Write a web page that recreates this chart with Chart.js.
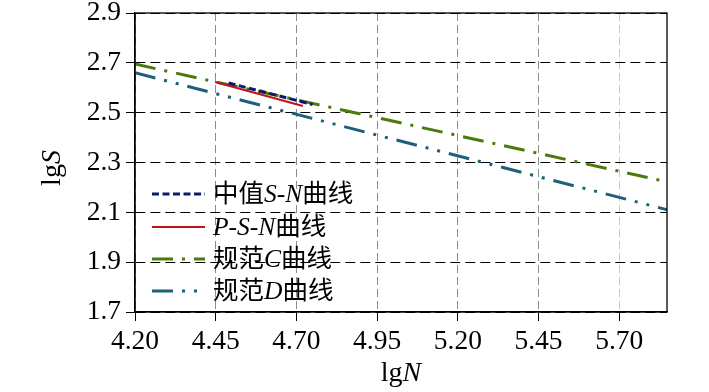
<!DOCTYPE html>
<html>
<head>
<meta charset="utf-8">
<script src="https://cdn.jsdelivr.net/npm/chart.js@4.4.1/dist/chart.umd.min.js"></script>
<style>
  html, body { margin: 0; padding: 0; background: #fff; }
  #wrap { width: 709px; height: 392px; }
</style>
</head>
<body>
<div id="wrap"><canvas id="chart" width="709" height="392"></canvas></div>
<script>
// tick positions
const xTicks = [4.20, 4.45, 4.70, 4.95, 5.20, 5.45, 5.70];
const yTicks = [1.7, 1.9, 2.1, 2.3, 2.5, 2.7, 2.9];

// curve end points (lgN, lgS)
const medianN = [4.49, 4.75];
const medianS = [2.619, 2.533];
const psnN = [4.448, 4.72];
const psnS = [2.623, 2.527];
const codeCN = [4.20, 5.85];
const codeCS = [2.695, 2.222];
const codeDN = [4.20, 5.85];
const codeDS = [2.66, 2.11];

const seriesNames = ['中值S-N曲线', 'P-S-N曲线', '规范C曲线', '规范D曲线'];

const serif = '"Liberation Serif", "Times New Roman", "Noto Sans CJK SC", serif';

function pts(xs, ys) {
  return xs.map((x, i) => ({ x: x, y: ys[i] }));
}

// draws text where capital latin letters are italic
function richText(ctx, str, x, y, size) {
  const parts = str.match(/[A-Z]+|[^A-Z]+/g);
  let cx = x;
  parts.forEach(p => {
    const it = /^[A-Z]+$/.test(p);
    ctx.font = (it ? 'italic ' : '') + size + 'px ' + serif;
    ctx.fillText(p, cx, y);
    cx += ctx.measureText(p).width;
  });
  return cx - x;
}
function richWidth(ctx, str, size) {
  const parts = str.match(/[A-Z]+|[^A-Z]+/g);
  let w = 0;
  parts.forEach(p => {
    const it = /^[A-Z]+$/.test(p);
    ctx.font = (it ? 'italic ' : '') + size + 'px ' + serif;
    w += ctx.measureText(p).width;
  });
  return w;
}

const extras = {
  id: 'extras',
  afterDraw(chart) {
    const { ctx, chartArea: a } = chart;
    ctx.save();
    // full frame
    ctx.strokeStyle = '#000';
    ctx.lineWidth = 1.3;
    ctx.setLineDash([]);
    ctx.strokeRect(a.left, a.top, a.right - a.left, a.bottom - a.top);

    // axis titles
    ctx.fillStyle = '#000';
    ctx.textBaseline = 'middle';
    const tSize = 28;
    const wN = richWidth(ctx, 'lgN', tSize);
    richText(ctx, 'lgN', (a.left + a.right) / 2 - wN / 2, 374, tSize);
    ctx.save();
    ctx.translate(53, 168);
    ctx.rotate(-Math.PI / 2);
    const wS = richWidth(ctx, 'lgS', tSize);
    richText(ctx, 'lgS', -wS / 2, 0, tSize);
    ctx.restore();

    // legend
    const rows = [194, 227, 259, 291];
    chart.data.datasets.forEach((ds, i) => {
      const y = rows[i];
      ctx.strokeStyle = ds.borderColor;
      ctx.lineWidth = ds.borderWidth;
      ctx.setLineDash(ds.borderDash || []);
      ctx.beginPath();
      ctx.moveTo(152, y);
      ctx.lineTo(205, y);
      ctx.stroke();
      ctx.setLineDash([]);
      ctx.fillStyle = '#000';
      ctx.textBaseline = 'middle';
      richText(ctx, ds.label, 213, y + 1, 25.5);
    });
    ctx.restore();
  }
};

new Chart(document.getElementById('chart'), {
  type: 'scatter',
  data: {
    datasets: [
      { label: seriesNames[0], data: pts(medianN, medianS), showLine: true,
        borderColor: '#0d1a6e', borderWidth: 3, borderDash: [7, 3.5], pointRadius: 0 },
      { label: seriesNames[1], data: pts(psnN, psnS), showLine: true,
        borderColor: '#c0141c', borderWidth: 2, pointRadius: 0 },
      { label: seriesNames[2], data: pts(codeCN, codeCS), showLine: true,
        borderColor: '#4b7a0c', borderWidth: 3, borderDash: [21, 9, 3, 9], pointRadius: 0 },
      { label: seriesNames[3], data: pts(codeDN, codeDS), showLine: true,
        borderColor: '#1d6077', borderWidth: 3, borderDash: [21, 9, 3, 9, 3, 9], pointRadius: 0 }
    ]
  },
  options: {
    responsive: false,
    animation: false,
    layout: { padding: { top: 13, right: 42, left: 0, bottom: 0 } },
    plugins: { legend: { display: false }, tooltip: { enabled: false } },
    scales: {
      x: {
        type: 'linear',
        min: 4.20,
        max: 5.848,
        afterBuildTicks: s => { s.ticks = xTicks.map(v => ({ value: v })); },
        afterFit: s => { s.height = 80; s.paddingLeft = 0; s.paddingRight = 0; },
        ticks: {
          color: '#000',
          font: { family: serif, size: 27.5, lineHeight: 1 },
          padding: 7,
          maxRotation: 0,
          callback: v => Number(v).toFixed(2)
        },
        grid: {
          color: c => (c.tick && c.tick.value > 5.6) ? '#c8c8c8' : '#8c8c8c',
          tickColor: '#000',
          tickLength: 9,
          lineWidth: 1
        },
        border: { color: '#000', width: 1.3, dash: [8, 4] }
      },
      y: {
        type: 'linear',
        min: 1.7,
        max: 2.9,
        afterBuildTicks: s => { s.ticks = yTicks.map(v => ({ value: v })); },
        afterFit: s => { s.width = 135; s.paddingTop = 0; s.paddingBottom = 0; },
        ticks: {
          color: '#000',
          font: { family: serif, size: 27.5, lineHeight: 1 },
          padding: 5,
          callback: v => Number(v).toFixed(1)
        },
        grid: {
          color: '#000',
          tickColor: '#000',
          tickLength: 9,
          lineWidth: 1
        },
        border: { color: '#000', width: 1.3, dash: [10, 5] }
      }
    }
  },
  plugins: [extras]
});
</script>
</body>
</html>
